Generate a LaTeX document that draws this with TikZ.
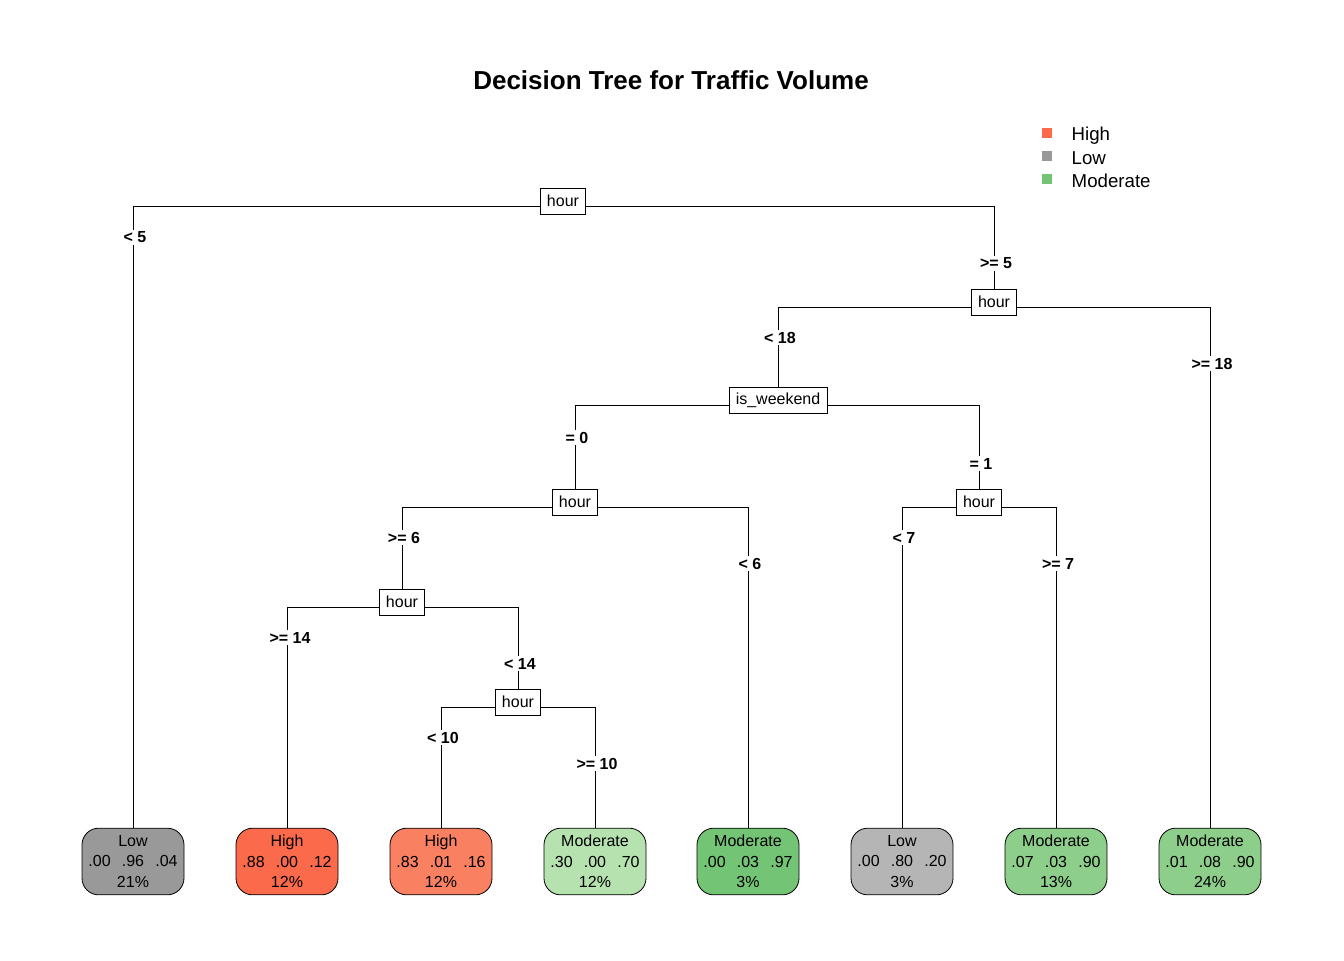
\documentclass[tikz,border=0pt]{standalone}
\usepackage{fontspec}
\setmainfont{Liberation Sans}
\definecolor{lowA}{RGB}{153,153,153}
\definecolor{lowB}{RGB}{181,181,181}
\definecolor{highA}{RGB}{251,106,74}
\definecolor{highB}{RGB}{250,128,98}
\definecolor{modA}{RGB}{116,196,118}
\definecolor{modB}{RGB}{141,207,138}
\definecolor{modC}{RGB}{182,226,175}
\begin{document}
\begin{tikzpicture}[x=0.75pt,y=-0.75pt,
  every node/.style={font=\fontsize{12}{15.4}\selectfont},
  split/.style={draw,fill=white,line width=0.6pt,inner xsep=5pt,inner ysep=0pt,minimum height=19.5pt},
  leaf/.style={draw,line width=0.6pt,rounded corners=12.5pt,minimum width=76.5pt,minimum height=50pt,align=center,inner sep=0pt},
  lab/.style={fill=white,inner sep=1.5pt,font=\fontsize{12}{14}\selectfont\bfseries},
  conn/.style={line width=0.6pt},
  legsq/.style={minimum size=8pt,inner sep=0pt},
  legtxt/.style={anchor=west,font=\fontsize{14}{16}\selectfont}]
\useasboundingbox (0,0) rectangle (1344,960);
\def\sp{\hspace{0.7em}}
% title
\node[font=\fontsize{19.5}{22}\selectfont\bfseries] (title) at (671,80) {Decision Tree for Traffic Volume};
% legend
\node[legsq,fill=highA] (lh) at (1047,133) {};
\node[legsq,fill=lowA] (ll) at (1047,156) {};
\node[legsq,fill=modA] (lm) at (1047,179) {};
\node[legtxt] (lht) at (1067,136) {High};
\node[legtxt] (llt) at (1067,158.5) {Low};
\node[legtxt] (lmt) at (1067,181) {Moderate};
% coordinates of split nodes
\coordinate (p1) at (563,201);
\coordinate (p2) at (994,302);
\coordinate (p3) at (778,400);
\coordinate (p4) at (575,502);
\coordinate (p5) at (979,502);
\coordinate (p6) at (402,602);
\coordinate (p7) at (518,702);
% leaves
\node[leaf,fill=lowA]  (L1) at (133,861.5) {\raisebox{-1.5pt}{\parbox{76pt}{\centering Low\\.00\sp.96\sp.04\\21\%}}};
\node[leaf,fill=highA] (L2) at (287,861.5) {\raisebox{-1.5pt}{\parbox{76pt}{\centering High\\.88\sp.00\sp.12\\12\%}}};
\node[leaf,fill=highB] (L3) at (441,861.5) {\raisebox{-1.5pt}{\parbox{76pt}{\centering High\\.83\sp.01\sp.16\\12\%}}};
\node[leaf,fill=modC]  (L4) at (595,861.5) {\raisebox{-1.5pt}{\parbox{76pt}{\centering Moderate\\.30\sp.00\sp.70\\12\%}}};
\node[leaf,fill=modA]  (L5) at (748,861.5) {\raisebox{-1.5pt}{\parbox{76pt}{\centering Moderate\\.00\sp.03\sp.97\\3\%}}};
\node[leaf,fill=lowB]  (L6) at (902,861.5) {\raisebox{-1.5pt}{\parbox{76pt}{\centering Low\\.00\sp.80\sp.20\\3\%}}};
\node[leaf,fill=modB]  (L7) at (1056,861.5) {\raisebox{-1.5pt}{\parbox{76pt}{\centering Moderate\\.07\sp.03\sp.90\\13\%}}};
\node[leaf,fill=modB]  (L8) at (1210,861.5) {\raisebox{-1.5pt}{\parbox{76pt}{\centering Moderate\\.01\sp.08\sp.90\\24\%}}};
% connectors (drawn before split boxes)
\draw[conn] ([yshift=-5.5*0.75pt]p1) -| (L1.north);
\draw[conn] ([yshift=-5.5*0.75pt]p1) -| (p2);
\draw[conn] ([yshift=-5.5*0.75pt]p2) -| (p3);
\draw[conn] ([yshift=-5.5*0.75pt]p2) -| (L8.north);
\draw[conn] ([yshift=-5.5*0.75pt]p3) -| (p4);
\draw[conn] ([yshift=-5.5*0.75pt]p3) -| (p5);
\draw[conn] ([yshift=-5.5*0.75pt]p4) -| (p6);
\draw[conn] ([yshift=-5.5*0.75pt]p4) -| (L5.north);
\draw[conn] ([yshift=-5.5*0.75pt]p5) -| (L6.north);
\draw[conn] ([yshift=-5.5*0.75pt]p5) -| (L7.north);
\draw[conn] ([yshift=-5.5*0.75pt]p6) -| (L2.north);
\draw[conn] ([yshift=-5.5*0.75pt]p6) -| (p7);
\draw[conn] ([yshift=-5.5*0.75pt]p7) -| (L3.north);
\draw[conn] ([yshift=-5.5*0.75pt]p7) -| (L4.north);
% split boxes
\node[split] (s1) at (p1) {\raisebox{-0.75pt}{hour}};
\node[split] (s2) at (p2) {\raisebox{-0.75pt}{hour}};
\node[split] (s3) at (p3) {\raisebox{-0.75pt}{is\_weekend}};
\node[split] (s4) at (p4) {\raisebox{-0.75pt}{hour}};
\node[split] (s5) at (p5) {\raisebox{-0.75pt}{hour}};
\node[split] (s6) at (p6) {\raisebox{-0.75pt}{hour}};
\node[split] (s7) at (p7) {\raisebox{-0.75pt}{hour}};
% edge labels
\node[lab] (e1) at (135,237.5) {< 5};
\node[lab] (e2) at (996,263.5) {>= 5};
\node[lab] (e3) at (780,337.5) {< 18};
\node[lab] (e4) at (1212,363.5) {>= 18};
\node[lab] (e5) at (577,437.5) {= 0};
\node[lab] (e6) at (981,463.5) {= 1};
\node[lab] (e7) at (404,537.5) {>= 6};
\node[lab] (e8) at (750,563.5) {< 6};
\node[lab] (e9) at (904,537.5) {< 7};
\node[lab] (e10) at (1058,563.5) {>= 7};
\node[lab] (e11) at (290,637.5) {>= 14};
\node[lab] (e12) at (520,663.5) {< 14};
\node[lab] (e13) at (443,737.5) {< 10};
\node[lab] (e14) at (597,763.5) {>= 10};
\end{tikzpicture}
\end{document}
